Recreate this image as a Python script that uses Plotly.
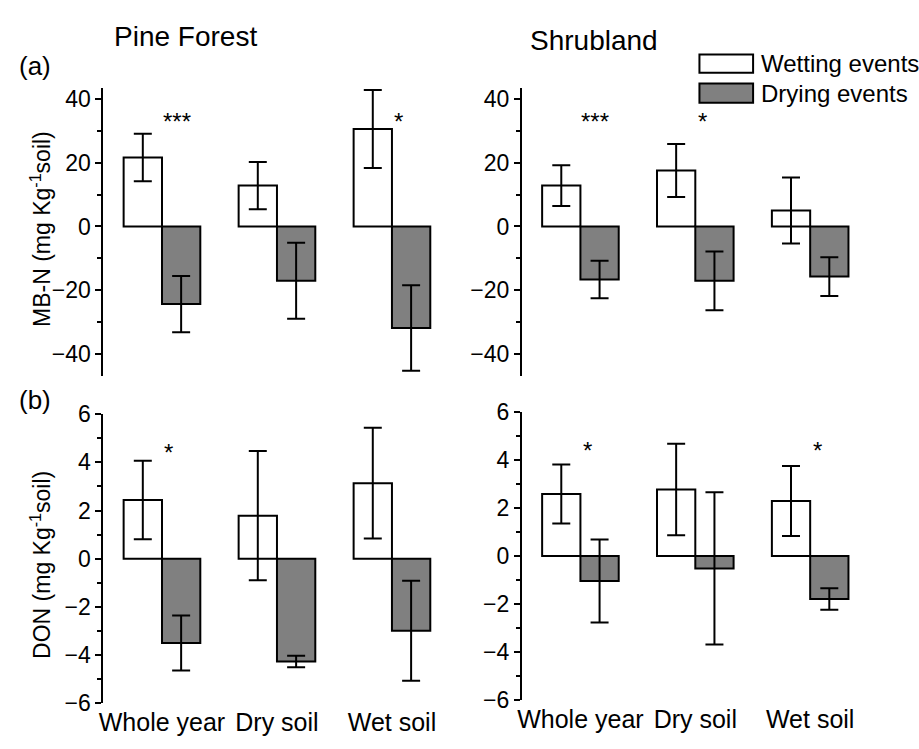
import plotly.graph_objects as go

# ---------------- data ----------------
categories = ["Whole year", "Dry soil", "Wet soil"]

pine_mbn_wet = [21.6, 12.8, 30.5]
pine_mbn_wet_err = [7.4, 7.4, 12.2]
pine_mbn_dry = [-24.3, -17.0, -31.8]
pine_mbn_dry_err = [8.8, 11.9, 13.4]

shrub_mbn_wet = [12.8, 17.5, 5.0]
shrub_mbn_wet_err = [6.4, 8.3, 10.3]
shrub_mbn_dry = [-16.6, -17.0, -15.7]
shrub_mbn_dry_err = [5.9, 9.2, 6.1]

pine_don_wet = [2.44, 1.79, 3.14]
pine_don_wet_err = [1.63, 2.68, 2.30]
pine_don_dry = [-3.50, -4.27, -2.99]
pine_don_dry_err = [1.14, 0.24, 2.08]

shrub_don_wet = [2.58, 2.77, 2.29]
shrub_don_wet_err = [1.23, 1.91, 1.46]
shrub_don_dry = [-1.04, -0.52, -1.79]
shrub_don_dry_err = [1.73, 3.17, 0.45]

pine_mbn_sig = ["***", "", "*"]
shrub_mbn_sig = ["***", "*", ""]
pine_don_sig = ["*", "", ""]
shrub_don_sig = ["*", "", "*"]

series_names = ["Wetting events", "Drying events"]

# ---------------- styling ----------------
FONT = "Liberation Sans, Arial, sans-serif"
WET_FILL = "#ffffff"
DRY_FILL = "#808080"

fig = go.Figure()

panels = [
    ("x", "y", pine_mbn_wet, pine_mbn_wet_err, pine_mbn_dry, pine_mbn_dry_err, pine_mbn_sig, 33.0),
    ("x2", "y2", shrub_mbn_wet, shrub_mbn_wet_err, shrub_mbn_dry, shrub_mbn_dry_err, shrub_mbn_sig, 33.0),
    ("x3", "y3", pine_don_wet, pine_don_wet_err, pine_don_dry, pine_don_dry_err, pine_don_sig, 4.4),
    ("x4", "y4", shrub_don_wet, shrub_don_wet_err, shrub_don_dry, shrub_don_dry_err, shrub_don_sig, 4.4),
]

annotations = []
for xa, ya, wet, wet_err, dry, dry_err, sig, sig_y in panels:
    for name, vals, errs, fill in [
        (series_names[0], wet, wet_err, WET_FILL),
        (series_names[1], dry, dry_err, DRY_FILL),
    ]:
        fig.add_trace(go.Bar(
            x=categories, y=vals, name=name, xaxis=xa, yaxis=ya,
            marker=dict(color=fill, line=dict(color="black", width=2)),
            error_y=dict(type="data", array=errs, visible=True,
                         color="black", thickness=2, width=9),
            showlegend=False,
        ))
    for i, s in enumerate(sig):
        if s:
            annotations.append(dict(
                x=i + (0.13 if len(s) == 3 else 0.06), y=sig_y,
                xref=xa, yref=ya, text=s, showarrow=False,
                font=dict(family=FONT, size=24, color="black"),
                xanchor="center", yanchor="middle",
            ))

xdom_left = [0.1066, 0.492]
xdom_right = [0.565, 0.950]
ydom_top = [0.498, 0.896]
ydom_bot_left = [0.0454, 0.445]
ydom_bot_right = [0.0498, 0.4482]
xrange = [-0.51, 2.55]

def xaxis(domain, anchor, show_labels):
    return dict(domain=domain, anchor=anchor, range=xrange, showline=False,
                showgrid=False, zeroline=False, ticks="",
                showticklabels=show_labels, ticklabelstandoff=2,
                tickfont=dict(family=FONT, size=25, color="black"))

def yaxis(domain, anchor, rng, dtick, minor):
    return dict(domain=domain, anchor=anchor, range=rng, dtick=dtick,
                showline=True, linecolor="black", linewidth=2,
                showgrid=False, zeroline=False,
                ticks="outside", ticklen=6, tickwidth=2, tickcolor="black",
                minor=dict(dtick=minor, ticks="outside", ticklen=4,
                           tickwidth=2, tickcolor="black"),
                tickfont=dict(family=FONT, size=23, color="black"))

layout = dict(
    autosize=True,
    margin=dict(l=0, r=0, t=0, b=0),
    paper_bgcolor="white", plot_bgcolor="white",
    barmode="group", bargap=1/3, bargroupgap=0,
    showlegend=False,
    xaxis=xaxis(xdom_left, "y", False),
    xaxis2=xaxis(xdom_right, "y2", False),
    xaxis3=xaxis(xdom_left, "y3", True),
    xaxis4=xaxis(xdom_right, "y4", True),
    yaxis=yaxis(ydom_top, "x", [-46.8, 43.3], 20, 10),
    yaxis2=yaxis(ydom_top, "x2", [-46.8, 43.3], 20, 10),
    yaxis3=yaxis(ydom_bot_left, "x3", [-6, 6], 2, 1),
    yaxis4=yaxis(ydom_bot_right, "x4", [-6, 6], 2, 1),
)

# titles, panel labels, axis titles, legend text
def paper_text(text, x, y, size, angle=0, xanchor="center"):
    return dict(text=text, x=x, y=y, xref="paper", yref="paper",
                showarrow=False, textangle=angle, xanchor=xanchor, yanchor="middle",
                font=dict(family=FONT, size=size, color="black"))

annotations += [
    paper_text("Pine Forest", 181 / 919, 1 - 24 / 749, 28),
    paper_text("Shrubland", 592 / 919, 1 - 28 / 749, 28),
    paper_text("(a)", 29 / 919, 1 - 55 / 749, 26),
    paper_text("(b)", 29 / 919, 1 - 401 / 749, 26),
    paper_text("MB-N (mg Kg<sup>-1</sup>soil)", 35 / 919, 1 - 224 / 749, 23, angle=-90),
    paper_text("DON (mg Kg<sup>-1</sup>soil)", 35 / 919, 1 - 572 / 749, 23, angle=-90),
    paper_text("Wetting events", 758 / 919, 1 - 52 / 749, 24, xanchor="left"),
    paper_text("Drying events", 758 / 919, 1 - 83 / 749, 24, xanchor="left"),
]

# legend swatches
shapes = [
    dict(type="rect", xref="paper", yref="paper",
         x0=698 / 919, x1=752 / 919, y0=1 - 62 / 749, y1=1 - 43 / 749,
         fillcolor=WET_FILL, line=dict(color="black", width=2)),
    dict(type="rect", xref="paper", yref="paper",
         x0=698 / 919, x1=752 / 919, y0=1 - 93 / 749, y1=1 - 73 / 749,
         fillcolor=DRY_FILL, line=dict(color="black", width=2)),
]

layout["annotations"] = annotations
layout["shapes"] = shapes
fig.update_layout(**layout)

fig.write_html(
    "out.html",
    config={"displayModeBar": False, "responsive": True},
    default_width="100%",
    default_height="100vh",
    post_script=(
        "document.documentElement.style.margin='0';"
        "document.body.style.margin='0';"
        "document.body.style.overflow='hidden';"
        "Plotly.Plots.resize(document.getElementById('{plot_id}'));"
    ),
)
